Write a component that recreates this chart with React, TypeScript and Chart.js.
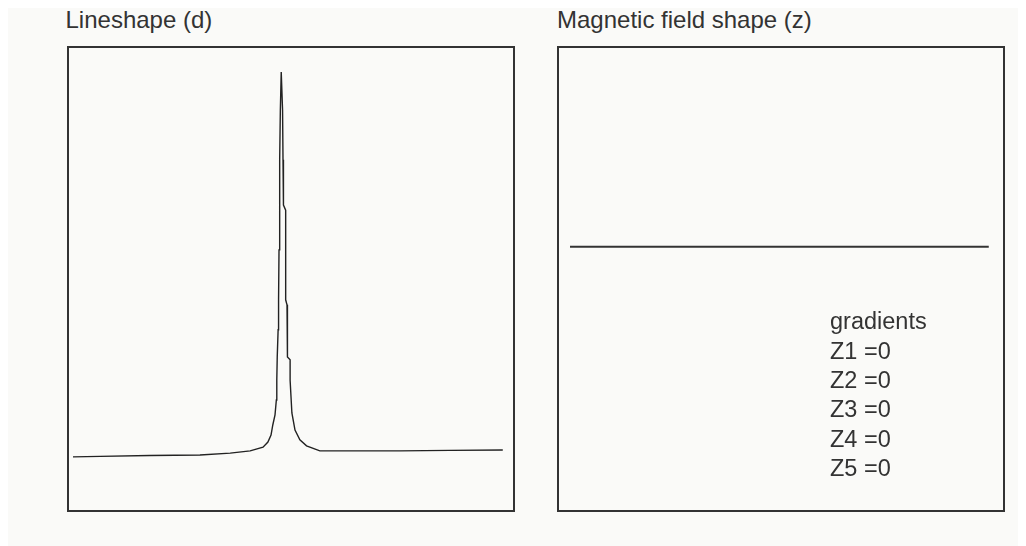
import React, { useEffect, useRef } from "react";
import { Chart, registerables } from "chart.js";

Chart.register(...registerables);

// Lineshape (d): frequency axis (arbitrary units 0..100) and intensity (0..100)
const lineshapeX = [
  0.9, 7.0, 18.2, 29.5, 36.3, 40.8, 43.7, 44.8, 45.5, 45.9, 46.4, 46.7, 46.8, 46.9,
  47.1, 47.2, 47.3, 47.4, 47.5, 47.6, 47.8, 48.1, 48.2, 48.3, 48.8, 48.8, 49.1, 49.2,
  49.8, 49.8, 50.2, 50.9, 52.0, 53.5, 56.5, 63.3, 74.5, 85.8, 97.7,
];
const lineshapeY = [
  11.5, 11.6, 11.8, 11.9, 12.3, 12.8, 13.6, 14.7, 16.2, 18.4, 20.6, 23.8, 28.1, 33.1,
  39.0, 45.5, 56.3, 66.0, 75.8, 86.6, 94.8, 86.6, 75.8, 66.0, 64.9, 45.5, 44.4, 33.1,
  32.5, 28.1, 21.0, 17.3, 15.2, 13.9, 12.8, 12.8, 12.8, 12.9, 13.0,
];

// Magnetic field shape (z): position along z and field deviation (all gradients zero)
const zPositions = [-1, -0.5, 0, 0.5, 1];
const fieldValues = [0, 0, 0, 0, 0];

const gradientLabels = ["gradients", "Z1 =0", "Z2 =0", "Z3 =0", "Z4 =0", "Z5 =0"];

const FONT = '"Liberation Sans", Arial, Helvetica, sans-serif';
const TEXT_COLOR = "#333";

function makeChart(
  canvas: HTMLCanvasElement,
  xs: number[],
  ys: number[],
  xMin: number,
  xMax: number,
  yMin: number,
  yMax: number,
  color: string,
  width: number
) {
  return new Chart(canvas, {
    type: "line",
    data: {
      datasets: [
        {
          data: xs.map((x, i) => ({ x, y: ys[i] })),
          borderColor: color,
          borderWidth: width,
          pointRadius: 0,
          tension: 0,
          fill: false,
        },
      ],
    },
    options: {
      animation: false,
      responsive: false,
      maintainAspectRatio: false,
      devicePixelRatio: 1,
      layout: { padding: 0 },
      plugins: {
        legend: { display: false },
        tooltip: { enabled: false },
        title: { display: false },
      },
      scales: {
        x: { type: "linear", display: false, min: xMin, max: xMax },
        y: { type: "linear", display: false, min: yMin, max: yMax },
      },
    },
  });
}

export default function App() {
  const leftRef = useRef<HTMLCanvasElement | null>(null);
  const rightRef = useRef<HTMLCanvasElement | null>(null);

  useEffect(() => {
    document.body.style.overflow = "hidden";
    const c1 = makeChart(leftRef.current!, lineshapeX, lineshapeY, 0, 100, 0, 100, "#222", 1.4);
    const c2 = makeChart(rightRef.current!, zPositions, fieldValues, -1.0526, 1.068, -5.7, 4.3, "#333", 2);
    return () => {
      c1.destroy();
      c2.destroy();
    };
  }, []);

  const boxStyle = (left: number): React.CSSProperties => ({
    position: "absolute",
    left,
    top: 38,
    width: 448,
    height: 466,
    border: "2px solid #333",
    boxSizing: "border-box",
  });

  const textStyle = (left: number, top: number, size: number): React.CSSProperties => ({
    position: "absolute",
    left,
    top,
    fontFamily: FONT,
    fontSize: `${size}px`,
    lineHeight: "29px",
    color: TEXT_COLOR,
    whiteSpace: "nowrap",
  });

  return (
    <div
      style={{
        position: "relative",
        width: 1018,
        height: 538,
        background: "#fafaf8",
        overflow: "hidden",
      }}
    >
      <div style={textStyle(57.5, -2.6, 24)}>Lineshape (d)</div>
      <div style={textStyle(549, -2.6, 24)}>Magnetic field shape (z)</div>
      <div style={boxStyle(59)}>
        <canvas ref={leftRef} width={444} height={462} style={{ display: "block" }} />
      </div>
      <div style={boxStyle(549)}>
        <canvas ref={rightRef} width={444} height={462} style={{ display: "block" }} />
      </div>
      <div style={textStyle(822, 299.4, 23.5)}>
        {gradientLabels.map((t) => (
          <div key={t} style={{ height: "29.3px" }}>
            {t}
          </div>
        ))}
      </div>
    </div>
  );
}
